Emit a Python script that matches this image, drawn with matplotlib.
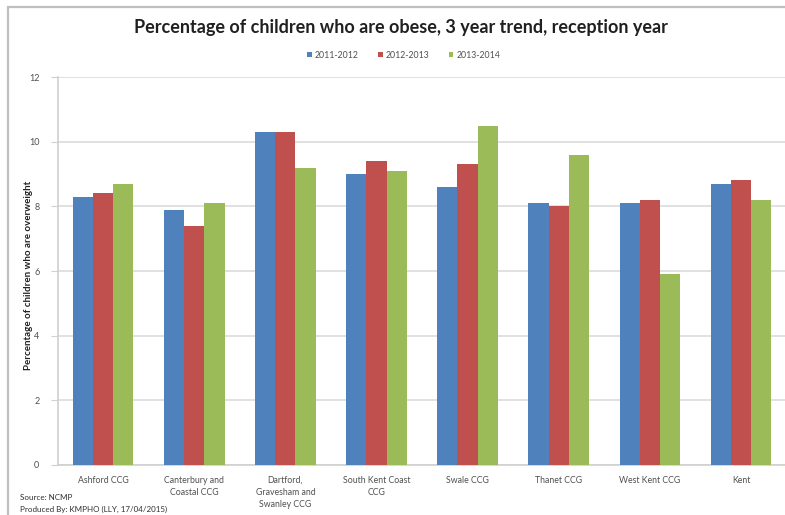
import matplotlib
matplotlib.use("Agg")
import matplotlib.pyplot as plt
from matplotlib.patches import Rectangle
import numpy as np

plt.rcParams['font.family'] = ['Lato', 'DejaVu Sans']

categories = ["Ashford CCG", "Canterbury and\nCoastal CCG", "Dartford,\nGravesham and\nSwanley CCG",
              "South Kent Coast\nCCG", "Swale CCG", "Thanet CCG", "West Kent CCG", "Kent"]
series_names = ["2011-2012", "2012-2013", "2013-2014"]
vals_2011_12 = [8.3, 7.9, 10.3, 9.0, 8.6, 8.1, 8.1, 8.7]
vals_2012_13 = [8.4, 7.4, 10.3, 9.4, 9.3, 8.0, 8.2, 8.8]
vals_2013_14 = [8.7, 8.1, 9.2, 9.1, 10.5, 9.6, 5.9, 8.2]
y_ticks = [0, 2, 4, 6, 8, 10, 12]

colors = ["#4F81BD", "#C0504D", "#9BBB59"]

W, H = 785, 515
fig = plt.figure(figsize=(W / 100, H / 100), dpi=100)

# outer chart frame
fig.patches.append(Rectangle((8 / W, -0.05), 1.1, 1 - 7 / H + 0.05, transform=fig.transFigure,
                             fill=False, edgecolor="#bfbfbf", linewidth=1.6))

ax = fig.add_axes([57.5 / W, 1 - 465 / H, (786.6 - 57.5) / W, (465 - 77) / H])

x = np.arange(len(categories))
bw = 1 / 4.5
for i, (vals, c, name) in enumerate(zip([vals_2011_12, vals_2012_13, vals_2013_14], colors, series_names)):
    ax.bar(x + (i - 1) * bw, vals, width=bw, color=c, label=name, zorder=3, linewidth=0)

ax.set_xlim(-0.5, len(categories) - 0.5)
ax.set_ylim(0, 12)
ax.set_yticks(y_ticks)
ax.set_yticklabels([str(t) for t in y_ticks], fontsize=6.5, color="#505050")
ax.set_xticks(x)
ax.set_xticklabels(categories, fontsize=6.3, color="#505050", linespacing=1.45)
ax.tick_params(axis='x', length=0, pad=8)
ax.tick_params(axis='y', length=5, color="#d0d0d0", pad=8)
ax.grid(axis='y', color="#dcdcdc", linewidth=1.2, zorder=0)
for s in ["top", "right"]:
    ax.spines[s].set_visible(False)
ax.spines["left"].set_color("#d0d0d0")
ax.spines["bottom"].set_color("#d0d0d0")
ax.spines["left"].set_linewidth(1.2)
ax.spines["bottom"].set_linewidth(1.2)

fig.text(29 / W, 1 - 275 / H, "Percentage of children who are overweight", rotation=90,
         ha="center", va="center", fontsize=7.0, fontweight="bold", color="#202020")

fig.text(401 / W, 1 - 27 / H, "Percentage of children who are obese, 3 year trend, reception year",
         ha="center", va="center", fontsize=13, fontweight="bold", color="#202020")

handles, labels = ax.get_legend_handles_labels()
fig.legend(handles, labels, loc="center", bbox_to_anchor=(404 / W, 1 - 55 / H), ncol=3,
           frameon=False, fontsize=6.3, handlelength=0.5, handleheight=0.5, handletextpad=0.4,
           columnspacing=2.2, labelcolor="#505050")

fig.text(20 / W, 1 - 497 / H, "Source: NCMP", fontsize=5.8, color="#303030", va="center")
fig.text(20 / W, 1 - 509 / H, "Produced By: KMPHO (LLY, 17/04/2015)", fontsize=5.8, color="#303030",
         va="center")

fig.savefig("out.png", dpi=100)
